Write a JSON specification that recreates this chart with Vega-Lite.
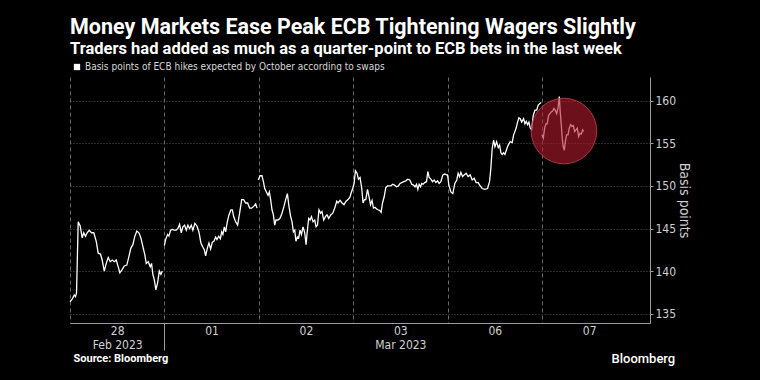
{
  "$schema": "https://vega.github.io/schema/vega-lite/v6.json",
  "width": 580,
  "height": 246,
  "autosize": "none",
  "padding": {"left": 70, "top": 77, "right": 110, "bottom": 57},
  "background": "#000000",
  "config": {
    "view": {"stroke": null},
    "font": "Liberation Sans Narrow, DejaVu Sans Condensed, Roboto, sans-serif"
  },
  "title": {
    "text": "Money Markets Ease Peak ECB Tightening Wagers Slightly",
    "subtitle": "Traders had added as much as a quarter-point to ECB bets in the last week",
    "anchor": "start",
    "frame": "group",
    "font": "Roboto",
    "fontSize": 21.5,
    "fontWeight": "bold",
    "color": "#ffffff",
    "subtitleFont": "Roboto",
    "subtitleFontSize": 16.5,
    "subtitleFontWeight": "bold",
    "subtitleColor": "#ffffff",
    "subtitlePadding": 2,
    "offset": 5
  },
  "datasets": {
    "line": [
      {"t":0.0,"v":136.4,"s":"a"},{"t":0.023,"v":136.7,"s":"a"},{"t":0.045,"v":137.2,"s":"a"},{"t":0.058,"v":137.0,"s":"a"},{"t":0.069,"v":137.4,"s":"a"},{"t":0.087,"v":145.8,"s":"a"},{"t":0.108,"v":145.3,"s":"a"},{"t":0.129,"v":143.9,"s":"a"},{"t":0.146,"v":144.5,"s":"a"},{"t":0.164,"v":144.1,"s":"a"},{"t":0.182,"v":144.5,"s":"a"},{"t":0.204,"v":144.8,"s":"a"},{"t":0.228,"v":144.5,"s":"a"},{"t":0.252,"v":144.5,"s":"a"},{"t":0.278,"v":143.5,"s":"a"},{"t":0.299,"v":142.1,"s":"a"},{"t":0.323,"v":142.0,"s":"a"},{"t":0.341,"v":141.3,"s":"a"},{"t":0.363,"v":140.0,"s":"a"},{"t":0.384,"v":140.9,"s":"a"},{"t":0.405,"v":141.6,"s":"a"},{"t":0.426,"v":141.1,"s":"a"},{"t":0.448,"v":141.3,"s":"a"},{"t":0.469,"v":141.1,"s":"a"},{"t":0.49,"v":141.3,"s":"a"},{"t":0.511,"v":140.5,"s":"a"},{"t":0.528,"v":139.8,"s":"a"},{"t":0.554,"v":140.2,"s":"a"},{"t":0.575,"v":140.6,"s":"a"},{"t":0.602,"v":140.7,"s":"a"},{"t":0.624,"v":141.7,"s":"a"},{"t":0.645,"v":142.7,"s":"a"},{"t":0.666,"v":143.1,"s":"a"},{"t":0.687,"v":144.1,"s":"a"},{"t":0.708,"v":144.7,"s":"a"},{"t":0.73,"v":144.5,"s":"a"},{"t":0.751,"v":143.9,"s":"a"},{"t":0.772,"v":142.9,"s":"a"},{"t":0.793,"v":141.9,"s":"a"},{"t":0.808,"v":140.9,"s":"a"},{"t":0.829,"v":141.1,"s":"a"},{"t":0.85,"v":140.5,"s":"a"},{"t":0.864,"v":140.9,"s":"a"},{"t":0.878,"v":139.6,"s":"a"},{"t":0.893,"v":139.0,"s":"a"},{"t":0.91,"v":137.8,"s":"a"},{"t":0.928,"v":138.6,"s":"a"},{"t":0.946,"v":140.0,"s":"a"},{"t":0.963,"v":139.6,"s":"a"},{"t":0.978,"v":140.0,"s":"a"},
      {"t":1.0,"v":143.0,"s":"b"},{"t":1.013,"v":143.7,"s":"b"},{"t":1.034,"v":144.3,"s":"b"},{"t":1.048,"v":144.1,"s":"b"},{"t":1.066,"v":144.8,"s":"b"},{"t":1.084,"v":144.9,"s":"b"},{"t":1.105,"v":144.8,"s":"b"},{"t":1.126,"v":144.8,"s":"b"},{"t":1.143,"v":145.0,"s":"b"},{"t":1.161,"v":145.5,"s":"b"},{"t":1.179,"v":144.5,"s":"b"},{"t":1.196,"v":145.2,"s":"b"},{"t":1.214,"v":145.4,"s":"b"},{"t":1.232,"v":144.8,"s":"b"},{"t":1.249,"v":145.4,"s":"b"},{"t":1.267,"v":145.0,"s":"b"},{"t":1.285,"v":145.4,"s":"b"},{"t":1.302,"v":144.8,"s":"b"},{"t":1.323,"v":145.6,"s":"b"},{"t":1.345,"v":145.3,"s":"b"},{"t":1.366,"v":144.6,"s":"b"},{"t":1.387,"v":143.3,"s":"b"},{"t":1.408,"v":142.8,"s":"b"},{"t":1.423,"v":142.5,"s":"b"},{"t":1.437,"v":141.8,"s":"b"},{"t":1.455,"v":142.7,"s":"b"},{"t":1.472,"v":143.3,"s":"b"},{"t":1.49,"v":142.6,"s":"b"},{"t":1.508,"v":143.4,"s":"b"},{"t":1.525,"v":143.5,"s":"b"},{"t":1.543,"v":144.0,"s":"b"},{"t":1.557,"v":143.7,"s":"b"},{"t":1.575,"v":144.1,"s":"b"},{"t":1.593,"v":143.8,"s":"b"},{"t":1.607,"v":144.6,"s":"b"},{"t":1.62,"v":144.3,"s":"b"},{"t":1.635,"v":145.2,"s":"b"},{"t":1.649,"v":144.6,"s":"b"},{"t":1.667,"v":145.8,"s":"b"},{"t":1.684,"v":146.6,"s":"b"},{"t":1.705,"v":147.2,"s":"b"},{"t":1.72,"v":147.2,"s":"b"},{"t":1.734,"v":146.4,"s":"b"},{"t":1.755,"v":145.8,"s":"b"},{"t":1.776,"v":145.4,"s":"b"},{"t":1.797,"v":146.8,"s":"b"},{"t":1.819,"v":148.4,"s":"b"},{"t":1.84,"v":148.4,"s":"b"},{"t":1.861,"v":148.0,"s":"b"},{"t":1.882,"v":148.0,"s":"b"},{"t":1.903,"v":147.4,"s":"b"},{"t":1.925,"v":147.4,"s":"b"},{"t":1.946,"v":147.6,"s":"b"},{"t":1.967,"v":147.9,"s":"b"},{"t":1.981,"v":147.4,"s":"b"},
      {"t":1.995,"v":150.7,"s":"c"},{"t":2.013,"v":151.2,"s":"c"},{"t":2.034,"v":151.2,"s":"c"},{"t":2.049,"v":150.5,"s":"c"},{"t":2.063,"v":149.7,"s":"c"},{"t":2.081,"v":149.3,"s":"c"},{"t":2.098,"v":148.9,"s":"c"},{"t":2.112,"v":149.3,"s":"c"},{"t":2.126,"v":148.4,"s":"c"},{"t":2.14,"v":147.2,"s":"c"},{"t":2.155,"v":146.6,"s":"c"},{"t":2.169,"v":145.4,"s":"c"},{"t":2.182,"v":146.0,"s":"c"},{"t":2.204,"v":146.0,"s":"c"},{"t":2.225,"v":146.2,"s":"c"},{"t":2.246,"v":146.8,"s":"c"},{"t":2.267,"v":147.6,"s":"c"},{"t":2.285,"v":148.4,"s":"c"},{"t":2.303,"v":149.1,"s":"c"},{"t":2.32,"v":147.6,"s":"c"},{"t":2.338,"v":146.4,"s":"c"},{"t":2.352,"v":145.8,"s":"c"},{"t":2.367,"v":144.6,"s":"c"},{"t":2.381,"v":144.8,"s":"c"},{"t":2.394,"v":143.5,"s":"c"},{"t":2.409,"v":144.0,"s":"c"},{"t":2.423,"v":143.9,"s":"c"},{"t":2.437,"v":144.8,"s":"c"},{"t":2.452,"v":144.3,"s":"c"},{"t":2.469,"v":145.2,"s":"c"},{"t":2.487,"v":144.5,"s":"c"},{"t":2.501,"v":143.1,"s":"c"},{"t":2.515,"v":144.8,"s":"c"},{"t":2.529,"v":146.2,"s":"c"},{"t":2.543,"v":146.0,"s":"c"},{"t":2.558,"v":146.4,"s":"c"},{"t":2.575,"v":145.8,"s":"c"},{"t":2.593,"v":146.0,"s":"c"},{"t":2.607,"v":145.2,"s":"c"},{"t":2.622,"v":145.4,"s":"c"},{"t":2.638,"v":147.2,"s":"c"},{"t":2.656,"v":146.8,"s":"c"},{"t":2.67,"v":147.0,"s":"c"},{"t":2.688,"v":146.0,"s":"c"},{"t":2.706,"v":146.4,"s":"c"},{"t":2.723,"v":146.6,"s":"c"},{"t":2.741,"v":146.2,"s":"c"},{"t":2.762,"v":146.6,"s":"c"},{"t":2.784,"v":146.8,"s":"c"},{"t":2.805,"v":147.4,"s":"c"},{"t":2.826,"v":148.2,"s":"c"},{"t":2.84,"v":148.0,"s":"c"},{"t":2.861,"v":148.3,"s":"c"},{"t":2.882,"v":148.0,"s":"c"},{"t":2.903,"v":147.8,"s":"c"},{"t":2.925,"v":148.2,"s":"c"},{"t":2.946,"v":148.4,"s":"c"},{"t":2.967,"v":148.7,"s":"c"},{"t":2.982,"v":149.3,"s":"c"},{"t":2.996,"v":149.7,"s":"c"},
      {"t":3.01,"v":150.3,"s":"c"},{"t":3.024,"v":151.8,"s":"c"},{"t":3.041,"v":151.5,"s":"c"},{"t":3.056,"v":150.8,"s":"c"},{"t":3.073,"v":151.0,"s":"c"},{"t":3.091,"v":149.7,"s":"c"},{"t":3.105,"v":148.0,"s":"c"},{"t":3.12,"v":148.4,"s":"c"},{"t":3.134,"v":148.4,"s":"c"},{"t":3.152,"v":149.6,"s":"c"},{"t":3.169,"v":148.7,"s":"c"},{"t":3.184,"v":147.8,"s":"c"},{"t":3.2,"v":148.3,"s":"c"},{"t":3.215,"v":147.4,"s":"c"},{"t":3.232,"v":147.5,"s":"c"},{"t":3.247,"v":147.3,"s":"c"},{"t":3.264,"v":147.2,"s":"c"},{"t":3.282,"v":147.1,"s":"c"},{"t":3.296,"v":146.9,"s":"c"},{"t":3.311,"v":148.0,"s":"c"},{"t":3.328,"v":148.7,"s":"c"},{"t":3.346,"v":149.8,"s":"c"},{"t":3.364,"v":150.0,"s":"c"},{"t":3.381,"v":150.0,"s":"c"},{"t":3.399,"v":150.0,"s":"c"},{"t":3.417,"v":150.2,"s":"c"},{"t":3.438,"v":150.1,"s":"c"},{"t":3.459,"v":149.9,"s":"c"},{"t":3.48,"v":150.0,"s":"c"},{"t":3.497,"v":150.3,"s":"c"},{"t":3.515,"v":150.4,"s":"c"},{"t":3.537,"v":150.5,"s":"c"},{"t":3.558,"v":150.6,"s":"c"},{"t":3.579,"v":150.8,"s":"c"},{"t":3.6,"v":150.7,"s":"c"},{"t":3.621,"v":150.2,"s":"c"},{"t":3.639,"v":150.1,"s":"c"},{"t":3.656,"v":149.9,"s":"c"},{"t":3.671,"v":150.2,"s":"c"},{"t":3.685,"v":149.6,"s":"c"},{"t":3.699,"v":150.2,"s":"c"},{"t":3.714,"v":149.9,"s":"c"},{"t":3.727,"v":150.3,"s":"c"},{"t":3.741,"v":150.2,"s":"c"},{"t":3.759,"v":150.4,"s":"c"},{"t":3.777,"v":150.5,"s":"c"},{"t":3.791,"v":151.7,"s":"c"},{"t":3.805,"v":151.0,"s":"c"},{"t":3.823,"v":150.8,"s":"c"},{"t":3.841,"v":150.5,"s":"c"},{"t":3.858,"v":150.7,"s":"c"},{"t":3.876,"v":150.4,"s":"c"},{"t":3.894,"v":150.6,"s":"c"},{"t":3.911,"v":150.3,"s":"c"},{"t":3.929,"v":150.5,"s":"c"},{"t":3.95,"v":151.3,"s":"c"},{"t":3.971,"v":151.4,"s":"c"},{"t":3.989,"v":151.3,"s":"c"},
      {"t":4.0,"v":151.3,"s":"c"},{"t":4.014,"v":150.1,"s":"c"},{"t":4.035,"v":149.3,"s":"c"},{"t":4.056,"v":149.1,"s":"c"},{"t":4.077,"v":150.3,"s":"c"},{"t":4.098,"v":150.7,"s":"c"},{"t":4.112,"v":151.5,"s":"c"},{"t":4.127,"v":151.1,"s":"c"},{"t":4.141,"v":151.6,"s":"c"},{"t":4.159,"v":151.1,"s":"c"},{"t":4.176,"v":151.3,"s":"c"},{"t":4.197,"v":151.5,"s":"c"},{"t":4.218,"v":151.1,"s":"c"},{"t":4.24,"v":151.3,"s":"c"},{"t":4.261,"v":150.7,"s":"c"},{"t":4.282,"v":150.9,"s":"c"},{"t":4.303,"v":150.4,"s":"c"},{"t":4.325,"v":150.4,"s":"c"},{"t":4.346,"v":150.0,"s":"c"},{"t":4.367,"v":149.7,"s":"c"},{"t":4.396,"v":149.6,"s":"c"},{"t":4.424,"v":149.7,"s":"c"},{"t":4.445,"v":150.5,"s":"c"},{"t":4.459,"v":152.1,"s":"c"},{"t":4.473,"v":154.4,"s":"c"},{"t":4.488,"v":155.4,"s":"c"},{"t":4.502,"v":154.6,"s":"c"},{"t":4.52,"v":155.2,"s":"c"},{"t":4.537,"v":154.5,"s":"c"},{"t":4.552,"v":154.8,"s":"c"},{"t":4.565,"v":153.9,"s":"c"},{"t":4.579,"v":153.7,"s":"c"},{"t":4.594,"v":153.9,"s":"c"},{"t":4.608,"v":153.7,"s":"c"},{"t":4.629,"v":154.4,"s":"c"},{"t":4.643,"v":154.8,"s":"c"},{"t":4.664,"v":155.2,"s":"c"},{"t":4.685,"v":155.1,"s":"c"},{"t":4.7,"v":156.0,"s":"c"},{"t":4.714,"v":156.4,"s":"c"},{"t":4.727,"v":156.8,"s":"c"},{"t":4.742,"v":157.5,"s":"c"},{"t":4.756,"v":158.0,"s":"c"},{"t":4.77,"v":157.9,"s":"c"},{"t":4.785,"v":157.5,"s":"c"},{"t":4.806,"v":157.9,"s":"c"},{"t":4.82,"v":157.3,"s":"c"},{"t":4.834,"v":157.6,"s":"c"},{"t":4.848,"v":157.2,"s":"c"},{"t":4.862,"v":157.5,"s":"c"},{"t":4.876,"v":156.8,"s":"c"},{"t":4.891,"v":156.6,"s":"c"},{"t":4.908,"v":158.3,"s":"c"},{"t":4.926,"v":158.9,"s":"c"},{"t":4.944,"v":158.9,"s":"c"},{"t":4.961,"v":159.5,"s":"c"},{"t":4.979,"v":159.7,"s":"c"},{"t":4.993,"v":159.8,"s":"c"},
      {"t":5.0,"v":156.0,"s":"d"},{"t":5.014,"v":155.6,"s":"d"},{"t":5.029,"v":156.8,"s":"d"},{"t":5.042,"v":157.3,"s":"d"},{"t":5.056,"v":157.3,"s":"d"},{"t":5.071,"v":158.3,"s":"d"},{"t":5.085,"v":158.5,"s":"d"},{"t":5.099,"v":158.7,"s":"d"},{"t":5.113,"v":158.8,"s":"d"},{"t":5.127,"v":159.1,"s":"d"},{"t":5.141,"v":158.9,"s":"d"},{"t":5.156,"v":158.5,"s":"d"},{"t":5.17,"v":159.1,"s":"d"},{"t":5.184,"v":160.5,"s":"d"},{"t":5.194,"v":158.7,"s":"d"},{"t":5.205,"v":157.2,"s":"d"},{"t":5.215,"v":155.6,"s":"d"},{"t":5.226,"v":154.6,"s":"d"},{"t":5.237,"v":154.2,"s":"d"},{"t":5.251,"v":155.4,"s":"d"},{"t":5.262,"v":156.0,"s":"d"},{"t":5.276,"v":156.0,"s":"d"},{"t":5.29,"v":156.8,"s":"d"},{"t":5.304,"v":157.2,"s":"d"},{"t":5.318,"v":157.0,"s":"d"},{"t":5.332,"v":157.1,"s":"d"},{"t":5.347,"v":156.4,"s":"d"},{"t":5.361,"v":156.6,"s":"d"},{"t":5.374,"v":156.8,"s":"d"},{"t":5.389,"v":155.8,"s":"d"},{"t":5.403,"v":156.2,"s":"d"},{"t":5.417,"v":156.1,"s":"d"},{"t":5.432,"v":156.6,"s":"d"},{"t":5.442,"v":156.4,"s":"d"}
    ],
    "hl": [{"t": 5.233, "v": 156.45}]
  },
  "layer": [
    {
      "data": {"name": "line"},
      "mark": {"type": "line", "strokeWidth": 1.3, "interpolate": "linear"},
      "encoding": {
        "x": {
          "field": "t", "type": "quantitative",
          "scale": {"domain": [0, 6.145], "nice": false, "zero": false},
          "axis": {
            "orient": "bottom",
            "title": "Source: Bloomberg",
            "titleFont": "Roboto",
            "titleFontSize": 11,
            "titleFontWeight": "bold",
            "titleColor": "#ffffff",
            "titleAnchor": "start",
            "titleAlign": "left",
            "titleBaseline": "middle",
            "titleX": 3,
            "titleY": 35,
            "values": [0, 0.5, 1, 1.5, 2, 2.5, 3, 3.5, 4, 4.5, 5, 5.5],
            "labelExpr": "datum.value == 0.5 ? ['28', 'Feb 2023'] : datum.value == 1.5 ? '01' : datum.value == 2.5 ? '02' : datum.value == 3.5 ? ['03', 'Mar 2023'] : datum.value == 4.5 ? '06' : datum.value == 5.5 ? '07' : ''",
            "labelFontSize": 12,
            "labelColor": "#d0d0d0",
            "labelPadding": 2,
            "labelLineHeight": 14,
            "labelFlush": false,
            "labelOverlap": false,
            "domainColor": "#9a9a9a",
            "domainWidth": 1,
            "ticks": true,
            "tickColor": "#9a9a9a",
            "tickSize": {"condition": {"test": "datum.value == 1", "value": 27}, "value": 0},
            "grid": true,
            "gridColor": "#6a6a6a",
            "gridDash": [4, 3],
            "gridWidth": 1,
            "gridOpacity": {"condition": {"test": "datum.value % 1 == 0", "value": 1}, "value": 0}
          }
        },
        "y": {
          "field": "v", "type": "quantitative",
          "scale": {"domain": [133.9, 162.8], "nice": false, "zero": false},
          "axis": {
            "orient": "right",
            "title": "Basis points",
            "titleAngle": 90,
            "titleFontSize": 14,
            "titleFontWeight": "normal",
            "titleColor": "#d0d0d0",
            "titlePadding": 1,
            "values": [135, 137.5, 140, 142.5, 145, 147.5, 150, 152.5, 155, 157.5, 160, 162.5],
            "labelExpr": "datum.value % 5 == 0 ? datum.value : ''",
            "labelFontSize": 12,
            "labelColor": "#d0d0d0",
            "labelPadding": 2,
            "tickSize": 3,
            "tickColor": "#9a9a9a",
            "domainColor": "#9a9a9a",
            "grid": true,
            "gridColor": "#555555",
            "gridDash": [1, 2],
            "gridOpacity": {"condition": {"test": "datum.value % 5 == 0", "value": 1}, "value": 0}
          }
        },
        "detail": {"field": "s"},
        "color": {
          "datum": "Basis points of ECB hikes expected by October according to swaps",
          "scale": {"range": ["#ffffff"]},
          "legend": {
            "orient": "none",
            "legendX": 2,
            "legendY": -15,
            "title": null,
            "symbolType": "square",
            "symbolSize": 40,
            "labelFontSize": 10,
            "labelLimit": 0,
            "labelColor": "#d8d8d8",
            "labelOffset": 3,
            "padding": 0,
            "encode": {"symbols": {"update": {"fill": {"value": "#ffffff"}, "stroke": {"value": "#ffffff"}, "strokeWidth": {"value": 0}}}}
          }
        }
      }
    },
    {
      "data": {"name": "hl"},
      "mark": {"type": "point", "shape": "circle", "filled": true, "size": 4300, "fill": "#b41a2e", "fillOpacity": 0.6, "stroke": "#c8404f", "strokeWidth": 1, "strokeOpacity": 0.8},
      "encoding": {
        "x": {
          "field": "t", "type": "quantitative",
          "axis": {
            "orient": "bottom",
            "title": "Bloomberg",
            "titleFont": "Roboto",
            "titleFontSize": 13,
            "titleFontWeight": 500,
            "titleColor": "#ffffff",
            "titleAnchor": "start",
            "titleAlign": "left",
            "titleBaseline": "middle",
            "titleX": 541,
            "titleY": 35,
            "labels": false,
            "ticks": false,
            "domain": false,
            "grid": false
          }
        },
        "y": {"field": "v", "type": "quantitative"}
      }
    }
  ],
  "resolve": {"axis": {"x": "independent"}}
}
